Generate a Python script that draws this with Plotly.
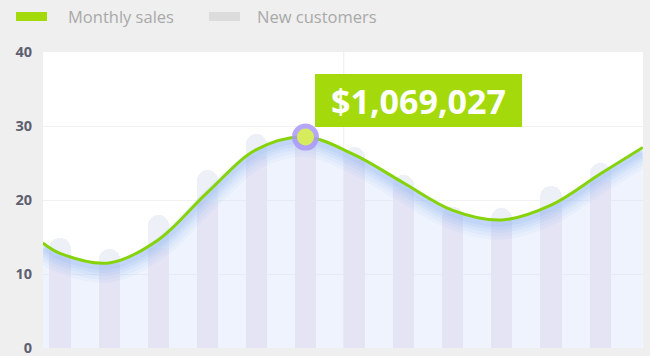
import plotly.graph_objects as go

# ---------------- data ----------------
months = list(range(12))
new_customers = [14.8, 13.4, 18.0, 24.0, 28.9, 29.0, 27.2, 23.4, 19.0, 18.9, 21.9, 25.0]

sales_x = [-0.35, 0, 1, 2, 3, 4, 5, 6, 7, 8, 9, 10, 11, 11.87]
sales = [14.2, 12.8, 11.5, 14.6, 21.0, 26.8, 28.5, 26.1, 22.3, 18.6, 17.3, 19.3, 23.5, 27.1]

highlight_idx = 6          # point inside sales arrays
highlight_label = "$1,069,027"
y_ticks = [0, 10, 20, 30, 40]
legend_names = ["Monthly sales", "New customers"]

# ---------------- style ----------------
W, H = 650, 356
ML, MR, MT, MB = 43, 7, 52, 8
PW, PH = W - ML - MR, H - MT - MB
GREEN = "#86d30b"
BOX_GREEN = "#a4da0b"
BG = "#efefef"
BAR_W = 0.43

def px_x(px):
    return (px - ML) / PW

def px_y(py):
    return (H - MB - py) / PH

# split each bar where the sales area starts (lower part sits under the area fill)
lower, upper = [], []
for i, b in enumerate(new_customers):
    c = sales[i + 1]
    slope = (sales[i + 2] - sales[i]) / (sales_x[i + 2] - sales_x[i])
    split = c - abs(slope) * BAR_W / 2
    lo = min(b, split)
    lower.append(lo)
    upper.append(b - lo)

fig = go.Figure()

# bars (new customers): lavender part under the area, grey-blue part above
fig.add_trace(go.Bar(x=months, y=lower, width=BAR_W,
                     marker=dict(color="rgb(238,230,242)", line=dict(width=0)),
                     hoverinfo="skip", showlegend=False))
fig.add_trace(go.Bar(x=months, y=upper, width=BAR_W,
                     marker=dict(color="rgb(237,240,246)", line=dict(width=0)),
                     hoverinfo="skip", showlegend=False))

# area under the sales line (semi-transparent so bars show through)
fig.add_trace(go.Scatter(
    x=sales_x, y=sales, mode="lines", line=dict(width=0, shape="spline", smoothing=1.0),
    fill="tozeroy", fillcolor="rgba(212,225,250,0.40)", hoverinfo="skip", showlegend=False))

# soft glow under the line
glow = [(1.3, 20, 0.06), (1.1, 16, 0.07), (0.9, 12, 0.08), (0.7, 9, 0.10), (0.5, 6, 0.12)]
for shift, width, alpha in glow:
    fig.add_trace(go.Scatter(
        x=sales_x, y=[v - shift for v in sales], mode="lines",
        line=dict(color=f"rgba(120,165,245,{alpha})", width=width, shape="spline", smoothing=1.0),
        hoverinfo="skip", showlegend=False))

# sales line
fig.add_trace(go.Scatter(
    x=sales_x, y=sales, mode="lines",
    line=dict(color=GREEN, width=3, shape="spline", smoothing=1.0),
    hoverinfo="skip", showlegend=False))

# highlighted point
hx, hy = sales_x[highlight_idx], sales[highlight_idx]
fig.add_trace(go.Scatter(x=[hx], y=[hy], mode="markers",
                         marker=dict(size=27, color="rgba(172,152,246,0.85)", line=dict(width=0)),
                         hoverinfo="skip", showlegend=False))
fig.add_trace(go.Scatter(x=[hx], y=[hy], mode="markers",
                         marker=dict(size=17, color="#d6ec5c", line=dict(width=0)),
                         hoverinfo="skip", showlegend=False))

fig.add_annotation(
    x=hx, y=hy, xref="x", yref="y", text=highlight_label, showarrow=False,
    xanchor="left", yanchor="bottom", xshift=10, yshift=10,
    width=207, height=53, bgcolor=BOX_GREEN, borderpad=0, borderwidth=0,
    font=dict(family="Open Sans", size=34, color="white", weight="bold"),
    align="center", valign="middle")

# faint vertical guide line
fig.add_shape(type="line", xref="x", yref="paper", x0=5.78, x1=5.78, y0=0, y1=1,
              line=dict(color="#ededf1", width=1), layer="below")

# custom legend
legend_items = [(16, 47, 66, BOX_GREEN), (209, 240, 255, "#dcdcdc")]
for (x0, x1, tx, col), name in zip(legend_items, legend_names):
    fig.add_shape(type="rect", xref="paper", yref="paper",
                  x0=px_x(x0), x1=px_x(x1), y0=px_y(21), y1=px_y(12),
                  fillcolor=col, line=dict(width=0))
    fig.add_annotation(xref="paper", yref="paper", x=px_x(tx), y=px_y(16.5),
                       text=name, showarrow=False, xanchor="left", yanchor="middle",
                       font=dict(family="Open Sans", size=16.5, color="#a9a9a9"))

fig.update_layout(
    width=W, height=H, margin=dict(l=ML, r=MR, t=MT, b=MB, autoexpand=False),
    paper_bgcolor=BG, plot_bgcolor="white", showlegend=False,
    barmode="stack", barcornerradius=11, bargap=0,
    xaxis=dict(range=[-0.346, 11.874], showgrid=False, zeroline=False, automargin=False,
               showticklabels=False, ticks="", showline=False, fixedrange=True),
    yaxis=dict(range=[0, 40], tickvals=y_ticks, showgrid=True, gridcolor="#f1f1f4",
               gridwidth=1, zeroline=False, showline=False, ticks="", automargin=False,
               ticklabelstandoff=10, ticklabeloverflow="allow",
               tickfont=dict(family="Open Sans", size=14.5, color="#5e5f6f", weight="bold")),
)

fig.write_html("out.html", config={"displayModeBar": False},
               post_script="document.body.style.margin='0';document.body.style.background='#efefef';")
